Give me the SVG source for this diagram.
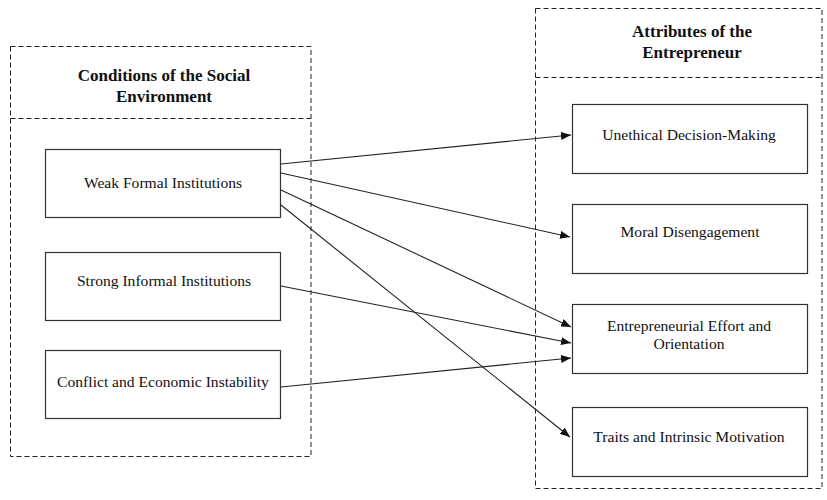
<svg xmlns="http://www.w3.org/2000/svg" width="827" height="500" viewBox="0 0 827 500">
  <defs>
    <marker id="arrow" viewBox="0 0 10 8" refX="10" refY="4" markerWidth="10" markerHeight="8" markerUnits="userSpaceOnUse" orient="auto">
      <path d="M0,0 L10,4 L0,8 Z" fill="#111"/>
    </marker>
  </defs>
  <style>
    .panel { fill: none; stroke: #222; stroke-width: 1; stroke-dasharray: 5 3; }
    .node { fill: #fff; stroke: #333; stroke-width: 1.2; }
    .head { font-family: "Liberation Serif", "Times New Roman", serif; font-weight: bold; font-size: 17px; fill: #111; text-anchor: middle; }
    .label { font-family: "Liberation Serif", "Times New Roman", serif; font-size: 15.6px; fill: #111; text-anchor: middle; }
    .link { fill: none; stroke: #222; stroke-width: 1.1; marker-end: url(#arrow); }
  </style>
  <rect width="827" height="500" fill="#fff"/>

  <!-- Left panel: social environment -->
  <g id="panel-social">
    <rect class="panel" x="10.5" y="46.5" width="300.5" height="410"/>
    <line class="panel" x1="10.5" y1="118.5" x2="311" y2="118.5"/>
    <text class="head" x="164" y="81">Conditions of the Social</text>
    <text class="head" x="164" y="102">Environment</text>
  </g>

  <!-- Right panel: entrepreneur attributes -->
  <g id="panel-entrepreneur">
    <rect class="panel" x="535.5" y="8.5" width="286.5" height="480"/>
    <line class="panel" x1="535.5" y1="77.5" x2="822" y2="77.5"/>
    <text class="head" x="692" y="37">Attributes of the</text>
    <text class="head" x="692" y="58">Entrepreneur</text>
  </g>

  <g id="weak-formal">
    <rect class="node" x="45.5" y="149.5" width="235" height="68"/>
    <text class="label" x="163" y="188">Weak Formal Institutions</text>
  </g>
  <g id="strong-informal">
    <rect class="node" x="45.5" y="252.5" width="235" height="68"/>
    <text class="label" x="164" y="286">Strong Informal Institutions</text>
  </g>
  <g id="conflict">
    <rect class="node" x="45.5" y="350.5" width="235" height="68"/>
    <text class="label" x="163" y="387">Conflict and Economic Instability</text>
  </g>

  <g id="unethical">
    <rect class="node" x="572.5" y="104.5" width="235" height="69"/>
    <text class="label" x="689" y="140">Unethical Decision-Making</text>
  </g>
  <g id="moral">
    <rect class="node" x="572.5" y="204.5" width="235" height="69"/>
    <text class="label" x="690" y="237">Moral Disengagement</text>
  </g>
  <g id="effort">
    <rect class="node" x="572.5" y="304.5" width="235" height="69"/>
    <text class="label" x="689" y="331">Entrepreneurial Effort and</text>
    <text class="label" x="689" y="349">Orientation</text>
  </g>
  <g id="traits">
    <rect class="node" x="572.5" y="407.5" width="235" height="69"/>
    <text class="label" x="689" y="442">Traits and Intrinsic Motivation</text>
  </g>

  <g id="connectors">
    <line class="link" x1="281" y1="164" x2="571" y2="135"/>
    <line class="link" x1="281" y1="173" x2="570" y2="237"/>
    <line class="link" x1="281" y1="190" x2="571" y2="327"/>
    <line class="link" x1="281" y1="205" x2="570" y2="437"/>
    <line class="link" x1="281" y1="286" x2="571" y2="343"/>
    <line class="link" x1="281" y1="387" x2="571" y2="358"/>
  </g>
</svg>
